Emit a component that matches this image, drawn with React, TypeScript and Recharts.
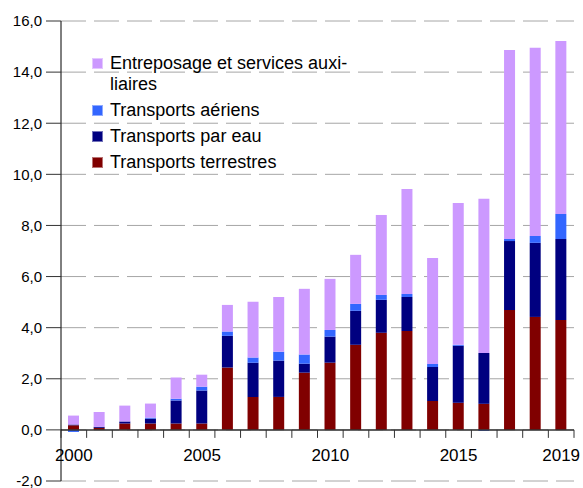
import { Bar, BarChart, CartesianGrid, Legend, ReferenceLine, XAxis, YAxis } from "recharts";

const years = [
  "2000", "2001", "2002", "2003", "2004", "2005", "2006", "2007", "2008", "2009",
  "2010", "2011", "2012", "2013", "2014", "2015", "2016", "2017", "2018", "2019",
];
const terrestres = [0.18, 0.08, 0.25, 0.25, 0.25, 0.25, 2.44, 1.29, 1.29, 2.24, 2.63, 3.33, 3.8, 3.87, 1.13, 1.06, 1.02, 4.69, 4.42, 4.3];
const parEau = [0.03, 0.04, 0.08, 0.19, 0.9, 1.29, 1.24, 1.34, 1.42, 0.35, 1.02, 1.33, 1.29, 1.33, 1.33, 2.23, 1.99, 2.7, 2.9, 3.17];
const aeriens = [-0.08, 0, 0, 0.04, 0.07, 0.15, 0.17, 0.2, 0.35, 0.36, 0.26, 0.27, 0.19, 0.12, 0.12, 0.04, -0.04, 0.08, 0.27, 0.98];
const entreposage = [0.35, 0.58, 0.62, 0.55, 0.83, 0.47, 1.04, 2.18, 2.14, 2.57, 2.0, 1.92, 3.13, 4.11, 4.15, 5.55, 6.03, 7.4, 7.36, 6.77];
const labeledYears = ["2000", "2005", "2010", "2015", "2019"];
const yTicks = [-2, 0, 2, 4, 6, 8, 10, 12, 14, 16];

const legendItems = [
  { name: "Entreposage et services auxi-\nliaires", color: "#cc99ff" },
  { name: "Transports aériens", color: "#3366ff" },
  { name: "Transports par eau", color: "#000080" },
  { name: "Transports terrestres", color: "#800000" },
];

const WIDTH = 583;
const HEIGHT = 488;
const MARGIN = { top: 21, right: 9, bottom: 0, left: 0 };
const Y_AXIS_W = 61;
const X_AXIS_H = 7;
const PLOT_W = WIDTH - MARGIN.left - MARGIN.right - Y_AXIS_W;
const PLOT_H = HEIGHT - MARGIN.top - MARGIN.bottom - X_AXIS_H;
const Y_MIN = -2;
const Y_MAX = 16;
const ZERO_Y = MARGIN.top + (PLOT_H * Y_MAX) / (Y_MAX - Y_MIN);

const data = years.map((year, i) => ({
  year,
  terrestres: terrestres[i],
  parEau: parEau[i],
  aeriens: aeriens[i],
  entreposage: entreposage[i],
}));

function YearTick(props: any) {
  const { x, payload, index } = props;
  const band = PLOT_W / years.length;
  return (
    <g>
      <line x1={x - band / 2} x2={x - band / 2} y1={ZERO_Y} y2={ZERO_Y + 8} stroke="#333" />
      {index === years.length - 1 && (
        <line x1={x + band / 2} x2={x + band / 2} y1={ZERO_Y} y2={ZERO_Y + 8} stroke="#333" />
      )}
      {labeledYears.includes(payload.value) && (
        <text x={x} y={ZERO_Y + 31} textAnchor="middle" fontSize={17} fill="#000">
          {payload.value}
        </text>
      )}
    </g>
  );
}

function LegendBox() {
  return (
    <div style={{ fontSize: 18, color: "#000", lineHeight: "21px" }}>
      {legendItems.map((item) => (
        <div key={item.name} style={{ display: "flex", alignItems: "flex-start", marginBottom: 5 }}>
          <span
            style={{
              display: "inline-block",
              boxSizing: "border-box",
              width: 11,
              height: 11,
              marginTop: 5,
              marginRight: 7,
              background: item.color,
              border: "1px solid rgba(255,255,255,0.45)",
              flexShrink: 0,
            }}
          />
          <span style={{ whiteSpace: "pre" }}>{item.name}</span>
        </div>
      ))}
    </div>
  );
}

export default function App() {
  return (
    <div style={{ position: "absolute", left: 0, top: 0, width: WIDTH, height: HEIGHT, background: "#fff" }}>
      <BarChart
        width={WIDTH}
        height={HEIGHT}
        data={data}
        margin={MARGIN}
        stackOffset="sign"
        barSize={11}
        style={{ fontFamily: "'Liberation Sans', Arial, sans-serif" }}
      >
        <CartesianGrid vertical={false} stroke="#a6a6a6" strokeDasharray="25 8" />
        <XAxis
          dataKey="year"
          height={X_AXIS_H}
          axisLine={false}
          tickLine={false}
          interval={0}
          tick={<YearTick />}
        />
        <YAxis
          width={Y_AXIS_W}
          domain={[Y_MIN, Y_MAX]}
          ticks={yTicks}
          interval={0}
          tickFormatter={(v: number) => v.toFixed(1).replace(".", ",")}
          tick={{ fill: "#000", fontSize: 15 }}
          tickSize={15}
          tickMargin={4}
          axisLine={{ stroke: "#000" }}
          tickLine={{ stroke: "#333" }}
        />
        <ReferenceLine y={0} stroke="#333" strokeWidth={1.5} />
        <Legend
          layout="horizontal"
          verticalAlign="middle"
          align="center"
          content={<LegendBox />}
          wrapperStyle={{ left: 92, top: 53, width: 320 }}
        />
        <Bar dataKey="terrestres" stackId="a" fill="#800000" isAnimationActive={false} />
        <Bar dataKey="parEau" stackId="a" fill="#000080" isAnimationActive={false} />
        <Bar dataKey="aeriens" stackId="a" fill="#3366ff" isAnimationActive={false} />
        <Bar dataKey="entreposage" stackId="a" fill="#cc99ff" isAnimationActive={false} />
      </BarChart>
    </div>
  );
}
